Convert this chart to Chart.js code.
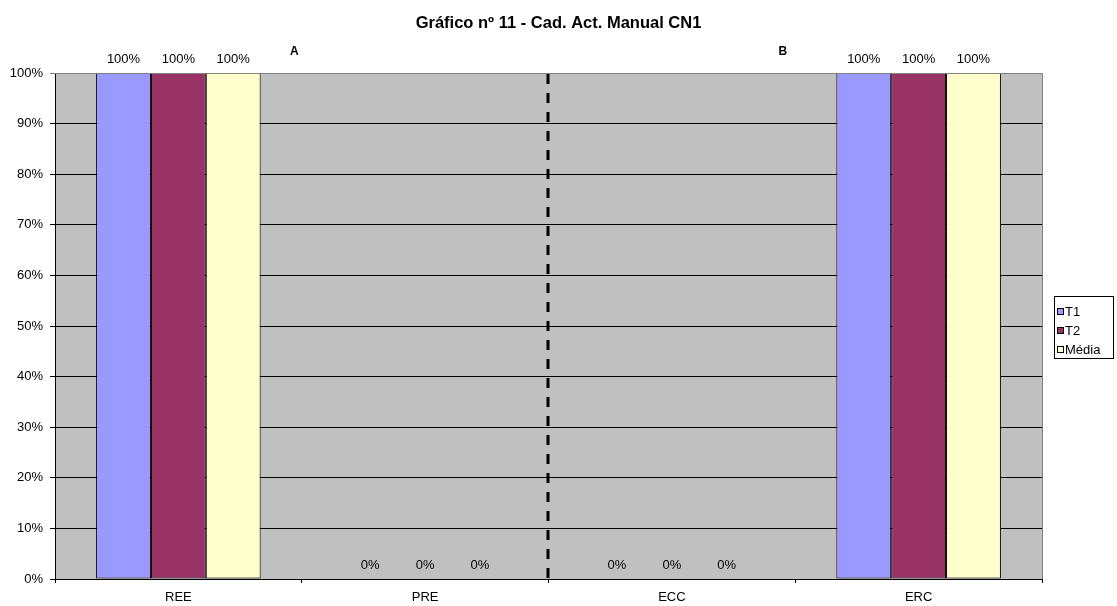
<!DOCTYPE html>
<html>
<head>
<meta charset="utf-8">
<script src="https://cdn.jsdelivr.net/npm/chart.js@4/dist/chart.umd.min.js"></script>
<style>
  body { margin: 0; background: #fff; }
  #wrap { width: 1117px; height: 606px; }
</style>
</head>
<body>
<div id="wrap"><canvas id="cadChart" width="1117" height="606"></canvas></div>
<script>
// categorias e valores (percentagem)
const categories = ["REE", "PRE", "ECC", "ERC"];
const seriesNames = ["T1", "T2", "Média"];
const t1Values = [100, 0, 0, 100];
const t2Values = [100, 0, 0, 100];
const mediaValues = [100, 0, 0, 100];
const yTicks = [0, 10, 20, 30, 40, 50, 60, 70, 80, 90, 100];
const noteLabels = ["A", "B"];

const colors = ["#9999FF", "#993366", "#FFFFCC"];
const FONT = "'Liberation Sans', Arial, sans-serif";

// fundo cinzento, etiquetas, linha tracejada e legenda
const decor = {
  id: "decor",
  beforeDraw(chart) {
    const { ctx, chartArea: a } = chart;
    ctx.save();
    ctx.fillStyle = "#C0C0C0";
    ctx.fillRect(a.left, a.top, a.right - a.left, a.bottom - a.top);
    ctx.restore();
  },
  afterDatasetsDraw(chart) {
    const { ctx, chartArea: a, scales } = chart;
    const x = scales.x;
    ctx.save();

    // bordas cinzentas (topo e direita)
    ctx.strokeStyle = "#808080";
    ctx.lineWidth = 1;
    ctx.beginPath();
    ctx.moveTo(a.left, a.top + 0.5);
    ctx.lineTo(a.right + 0.5, a.top + 0.5);
    ctx.lineTo(a.right + 0.5, a.bottom);
    ctx.stroke();

    // linha tracejada entre PRE e ECC
    const midX = Math.round((x.getPixelForValue(1) + x.getPixelForValue(2)) / 2) - 1;
    ctx.strokeStyle = "#000";
    ctx.lineWidth = 3;
    ctx.setLineDash([10, 9]);
    ctx.beginPath();
    ctx.moveTo(midX, a.top + 1);
    ctx.lineTo(midX, a.bottom);
    ctx.stroke();
    ctx.setLineDash([]);

    // valores por cima das barras
    ctx.fillStyle = "#000";
    ctx.font = "13px " + FONT;
    ctx.textAlign = "center";
    ctx.textBaseline = "middle";
    chart.data.datasets.forEach((ds, i) => {
      chart.getDatasetMeta(i).data.forEach((bar, j) => {
        ctx.fillText(ds.data[j] + "%", bar.x, bar.y - 14);
      });
    });

    // notas A e B
    ctx.font = "bold 12px " + FONT;
    const notePos = [0.47, 2.45];
    noteLabels.forEach((t, i) => {
      const px = a.left + (notePos[i] + 0.5) * (a.right - a.left) / categories.length;
      ctx.fillText(t, px, a.top - 21);
    });

    // legenda
    const lx = 1054, ly = 296, lw = 59, lh = 62;
    ctx.fillStyle = "#fff";
    ctx.fillRect(lx, ly, lw, lh);
    ctx.strokeStyle = "#000";
    ctx.lineWidth = 1;
    ctx.strokeRect(lx + 0.5, ly + 0.5, lw, lh);
    ctx.font = "13px " + FONT;
    ctx.textAlign = "left";
    seriesNames.forEach((name, i) => {
      const cy = ly + 16 + i * 19;
      ctx.fillStyle = colors[i];
      ctx.fillRect(lx + 3, cy - 4, 7, 7);
      ctx.strokeRect(lx + 3.5, cy - 3.5, 6, 6);
      ctx.fillStyle = "#000";
      ctx.fillText(name, lx + 11, cy);
    });

    ctx.restore();
  }
};

const ctx = document.getElementById("cadChart").getContext("2d");
const cadChart = new Chart(ctx, {
  type: "bar",
  data: {
    labels: categories,
    datasets: [
      { label: seriesNames[0], data: t1Values, backgroundColor: colors[0] },
      { label: seriesNames[1], data: t2Values, backgroundColor: colors[1] },
      { label: seriesNames[2], data: mediaValues, backgroundColor: colors[2] },
    ].map(d => Object.assign(d, {
      borderColor: "#000",
      borderWidth: 1,
      borderSkipped: false,
      categoryPercentage: 0.667,
      barPercentage: 1.0,
    })),
  },
  options: {
    responsive: false,
    animation: false,
    devicePixelRatio: 1,
    layout: { padding: 0 },
    plugins: {
      legend: { display: false },
      tooltip: { enabled: false },
      title: {
        display: true,
        text: "Gráfico nº 11 - Cad. Act. Manual CN1",
        color: "#000",
        font: { family: FONT, size: 16.5, weight: "bold" },
        padding: { top: 13.8, bottom: 39.4 },
      },
    },
    scales: {
      x: {
        afterFit(s) { s.height = 27; },
        grid: {
          offset: true,
          drawOnChartArea: false,
          drawTicks: true,
          tickLength: 4,
          color: "#000",
        },
        border: { color: "#000", width: 1 },
        ticks: {
          color: "#000",
          padding: 7,
          font: { family: FONT, size: 13 },
        },
      },
      y: {
        min: 0,
        max: 100,
        afterFit(s) { s.width = 55; },
        afterBuildTicks(s) { s.ticks = yTicks.map(v => ({ value: v })); },
        grid: {
          color: c => (c.tick && c.tick.value === 100 ? "#808080" : "#000"),
          tickLength: 5,
          drawTicks: true,
        },
        border: { color: "#000", width: 1 },
        ticks: {
          color: "#000",
          padding: 7,
          font: { family: FONT, size: 13 },
          callback: v => v + "%",
        },
      },
      // eixo vazio à direita, só reserva o espaço da legenda
      yRight: {
        position: "right",
        min: 0,
        max: 100,
        afterFit(s) { s.width = 75; },
        grid: { display: false },
        border: { display: false },
        ticks: { display: false },
      },
    },
  },
  plugins: [decor],
});
</script>
</body>
</html>
